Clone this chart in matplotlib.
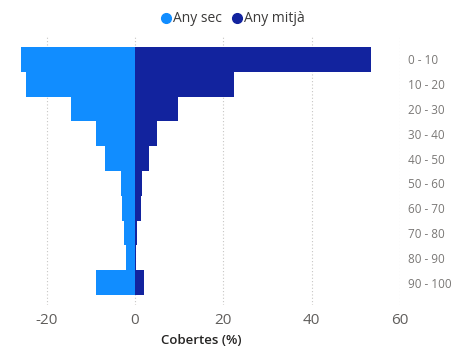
import matplotlib
matplotlib.use("Agg")
import matplotlib.pyplot as plt
from matplotlib.lines import Line2D

# Data
categories = ['0 - 10', '10 - 20', '20 - 30', '30 - 40', '40 - 50',
              '50 - 60', '60 - 70', '70 - 80', '80 - 90', '90 - 100']
any_sec = [-25.8, -24.7, -14.4, -8.8, -6.8, -3.2, -3.0, -2.5, -1.9, -8.7]
any_mitja = [53.5, 22.5, 9.8, 4.9, 3.2, 1.7, 1.3, 0.5, 0.3, 2.0]
xticks = [-20, 0, 20, 40, 60]

c_sec = '#118DFF'
c_mitja = '#12239E'
grey = '#605E5C'

plt.rcParams['font.family'] = ['Open Sans', 'DejaVu Sans']

fig = plt.figure(figsize=(4.58, 3.49), dpi=100)
ax = fig.add_axes([20 / 458, 1 - 305 / 349, 380 / 458, 268 / 349])

ypos = list(range(len(categories)))
ax.barh(ypos, any_sec, height=1.0, color=c_sec, zorder=3)
ax.barh(ypos, any_mitja, height=1.0, color=c_mitja, zorder=3)

ax.set_xlim(-26, 60)
ax.set_ylim(9.9, -0.9)
ax.set_xticks(xticks)
ax.set_xticklabels([str(t) for t in xticks], fontsize=11, color=grey)
ax.set_yticks(ypos)
ax.set_yticklabels(categories, fontsize=8.5, color='#7A7876')
ax.yaxis.tick_right()
ax.tick_params(axis='both', length=0)
ax.tick_params(axis='y', pad=6)
ax.tick_params(axis='x', pad=6)

ax.grid(axis='x', linestyle=(0, (1, 2)), color='#C8C6C4', linewidth=0.8, zorder=0)
for s in ax.spines.values():
    s.set_visible(False)

fig.text(201 / 458, 1 - 341 / 349, 'Cobertes (%)', ha='center', va='center',
         fontsize=9.5, color='#252423', fontweight='semibold')

handles = [Line2D([], [], marker='o', linestyle='none', color=c_sec, markersize=7),
           Line2D([], [], marker='o', linestyle='none', color=c_mitja, markersize=7)]
fig.legend(handles, ['Any sec', 'Any mitjà'], loc='center', bbox_to_anchor=(232 / 458, 1 - 19 / 349),
           ncol=2, frameon=False, fontsize=10, handletextpad=0.0, columnspacing=0.6,
           labelcolor='#3B3A39', handlelength=1.0)

fig.savefig('out.png', dpi=100)
